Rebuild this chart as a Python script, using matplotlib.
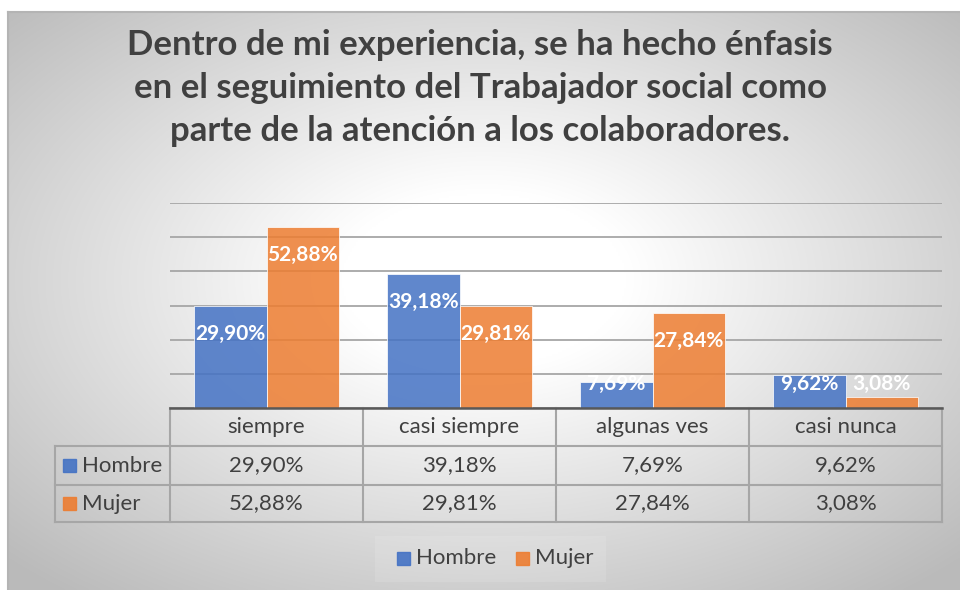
import numpy as np
import matplotlib.pyplot as plt
from matplotlib.patches import Rectangle

# data
categories = ['siempre', 'casi siempre', 'algunas ves', 'casi nunca']
series = ['Hombre', 'Mujer']
hombre = [29.90, 39.18, 7.69, 9.62]
mujer = [52.88, 29.81, 27.84, 3.08]
colors = ['#4472c4', '#ed7d31']
title_lines = ['Dentro de mi experiencia, se ha hecho énfasis',
               'en el seguimiento del Trabajador social como',
               'parte de la atención a los colaboradores.']


def pct(v):
    return f'{v:.2f}%'.replace('.', ',')


plt.rcParams['font.family'] = ['Lato', 'DejaVu Sans']
txt = '#404040'
fs = 16

W, H = 960, 590
fig = plt.figure(figsize=(9.6, 5.9), dpi=100)

# layout axes in pixel coordinates (background, title, table, legend)
lay = fig.add_axes([0, 0, 1, 1], zorder=0)

x0, y0 = 8, 12
gx = np.linspace(x0, W, 480)
gy = np.linspace(y0, H, 300)
GX, GY = np.meshgrid(gx, gy)
d = np.hypot((GX - 484) / 476, (GY - 280) / 290)
v = 1 - 0.27 * np.clip((d - 0.3) / 1.1, 0, 1)
lay.imshow(np.dstack([v, v, v]), extent=[x0, W, H, y0], aspect='auto',
           interpolation='bilinear')
lay.plot([x0, W], [y0, y0], color='#b4b4b4', lw=1.5)
lay.plot([x0, x0], [y0, H], color='#b4b4b4', lw=1.5)
lay.set_xlim(0, W)
lay.set_ylim(H, 0)
lay.axis('off')

for i, line in enumerate(title_lines):
    lay.text(480, 45 + 43 * i, line, ha='center', va='center',
             fontsize=25, fontweight='bold', color=txt)

# bar chart
ax = fig.add_axes([170 / W, 1 - 408 / H, 772 / W, 205 / H], zorder=1)
ax.patch.set_visible(False)
x = np.arange(len(categories))
bw = 0.375
for k, (vals, col) in enumerate(zip([hombre, mujer], colors)):
    pos = x + (k - 0.5) * bw
    ax.bar(pos, vals, bw, color=col, alpha=0.85, edgecolor='#ffffff',
           linewidth=0.6, zorder=2)
    for p, val in zip(pos, vals):
        ax.text(p, max(val - 8.2, 7), pct(val), ha='center', va='center',
                color='white', fontsize=15, fontweight='bold', zorder=3)

ax.set_xlim(-0.5, len(categories) - 0.5)
ax.set_ylim(0, 60)
ax.set_yticks(np.arange(0, 61, 10))
ax.grid(axis='y', color='#a6a6a6', lw=1.3, zorder=0)
ax.tick_params(left=False, bottom=False, labelleft=False, labelbottom=False)
for s in ['top', 'left', 'right']:
    ax.spines[s].set_visible(False)
ax.spines['bottom'].set_color('#595959')
ax.spines['bottom'].set_linewidth(1.8)

# data table
col0, colw = 170, 193
ncol = len(categories)
xe = [col0 + colw * i for i in range(ncol + 1)]
ye = [408, 446, 485, 522]
lab_x = 55
gc = '#a6a6a6'
for yy in ye[1:]:
    lay.plot([lab_x, xe[-1]], [yy, yy], color=gc, lw=1.5)
lay.plot([lab_x, lab_x], [ye[1], ye[-1]], color=gc, lw=1.5)
for xx in xe:
    lay.plot([xx, xx], [ye[0], ye[-1]], color=gc, lw=1.5)

for i, c in enumerate(categories):
    lay.text(col0 + colw * (i + 0.5), (ye[0] + ye[1]) / 2, c, ha='center',
             va='center', fontsize=fs, color=txt)
for r, (name, vals, col) in enumerate(zip(series, [hombre, mujer], colors)):
    yc = (ye[r + 1] + ye[r + 2]) / 2
    lay.add_patch(Rectangle((63, yc - 6.5), 13, 13, color=col, alpha=0.9))
    lay.text(82, yc, name, ha='left', va='center', fontsize=fs, color=txt)
    for i, val in enumerate(vals):
        lay.text(col0 + colw * (i + 0.5), yc, pct(val), ha='center',
                 va='center', fontsize=fs, color=txt)

# legend
lay.add_patch(Rectangle((375, 536), 231, 46, color='white', alpha=0.12, lw=0))
for name, col, sx in zip(series, colors, [397, 516]):
    lay.add_patch(Rectangle((sx, 552), 13, 13, color=col, alpha=0.9))
    lay.text(sx + 19, 558, name, ha='left', va='center', fontsize=fs,
             color=txt)

fig.savefig('out.png', dpi=100)
